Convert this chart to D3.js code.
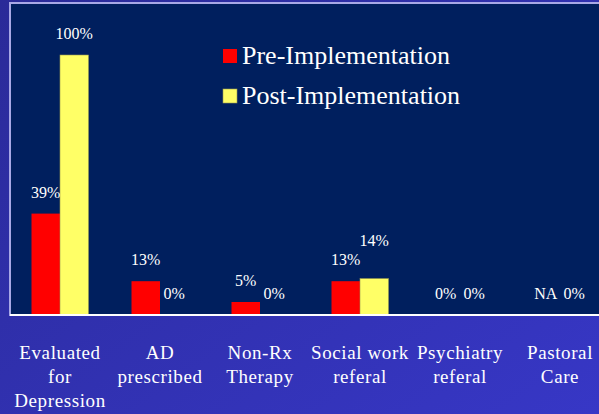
<!DOCTYPE html>
<html>
<head>
<meta charset="utf-8">
<script src="https://cdn.jsdelivr.net/npm/d3@7"></script>
<style>
  html, body { margin: 0; padding: 0; background: #2f2fb0; }
  svg { display: block; }
  text { font-family: "Liberation Serif", "Times New Roman", serif; fill: #ffffff; }
</style>
</head>
<body>
<svg id="chart"></svg>
<script>
// categories (multi-line labels)
var categories = [
    ["Evaluated", "for", "Depression"],
    ["AD", "prescribed"],
    ["Non-Rx", "Therapy"],
    ["Social work", "referal"],
    ["Psychiatry", "referal"],
    ["Pastoral", "Care"]
];
var seriesNames = ["Pre-Implementation", "Post-Implementation"];
// null = NA
var preValues = [39, 13, 5, 13, 0, null];
var postValues = [100, 0, 0, 14, 0, 0];
var seriesColors = ["#ff0000", "#ffff66"];

var width = 599, height = 414;
var svg = d3.select("#chart").attr("width", width).attr("height", height);

// background gradient
var defs = svg.append("defs");
var grad = defs.append("linearGradient")
    .attr("id", "bg")
    .attr("x1", "0").attr("y1", "0").attr("x2", "1").attr("y2", "1");
grad.append("stop").attr("offset", "0%").attr("stop-color", "#2a2a98");
grad.append("stop").attr("offset", "100%").attr("stop-color", "#3737c6");
svg.append("rect").attr("width", width).attr("height", height).attr("fill", "url(#bg)");

// plot area
var plot = {left: 10, top: 3, right: 610, bottom: 315};
svg.append("rect")
    .attr("x", plot.left).attr("y", plot.top)
    .attr("width", plot.right - plot.left).attr("height", plot.bottom - plot.top)
    .attr("fill", "#001f5e")
    .attr("stroke", "#a8a8e6")
    .attr("stroke-width", 2);

var x0 = d3.scaleBand()
    .domain(d3.range(categories.length))
    .range([plot.left, plot.right])
    .paddingInner(0.43)
    .paddingOuter(0.215);

var x1 = d3.scaleBand()
    .domain([0, 1])
    .range([0, x0.bandwidth()]);

var y = d3.scaleLinear()
    .domain([0, 100])
    .range([plot.bottom, 55]);

var rows = categories.map(function (c, i) {
    return {i: i, vals: [preValues[i], postValues[i]]};
});

var groups = svg.append("g").selectAll("g")
    .data(rows)
    .join("g")
    .attr("transform", function (d) { return "translate(" + x0(d.i) + ",0)"; });

groups.selectAll("rect")
    .data(function (d) { return d.vals.map(function (v, s) { return {s: s, v: v}; }); })
    .join("rect")
    .attr("x", function (d) { return x1(d.s); })
    .attr("width", x1.bandwidth())
    .attr("y", function (d) { return y(d.v || 0); })
    .attr("height", function (d) { return y(0) - y(d.v || 0); })
    .attr("fill", function (d) { return seriesColors[d.s]; })
    .attr("stroke", function (d) { return d.s === 1 ? "#9a9a50" : "none"; })
    .attr("stroke-width", 0.6);

// value labels
groups.each(function (d) {
    var g = d3.select(this);
    var ys = d.vals.map(function (v) { return y(v || 0) - 16; });
    // lift the second label when both sit at nearly the same height on real bars
    if (d.vals[0] > 0 && d.vals[1] > 0 && Math.abs(ys[0] - ys[1]) < 15) {
        ys[1] = Math.min(ys[0], ys[1]) - 17;
    }
    d.vals.forEach(function (v, s) {
        g.append("text")
            .attr("x", x1(s) + x1.bandwidth() / 2)
            .attr("y", ys[s])
            .attr("text-anchor", "middle")
            .style("font-size", "16px")
            .text(v === null ? "NA" : v + "%");
    });
});

// axis line
svg.append("line")
    .attr("x1", plot.left).attr("x2", width)
    .attr("y1", plot.bottom).attr("y2", plot.bottom)
    .attr("stroke", "#ffffff").attr("stroke-width", 2);

// category labels
var catAxis = svg.append("g").selectAll("text")
    .data(categories)
    .join("text")
    .attr("text-anchor", "middle")
    .style("font-size", "19px")
    .style("letter-spacing", "0.6px")
    .attr("transform", function (d, i) {
        return "translate(" + (x0(i) + x0.bandwidth() / 2) + ",359)";
    });
catAxis.selectAll("tspan")
    .data(function (d) { return d; })
    .join("tspan")
    .attr("x", 0)
    .attr("y", function (d, i) { return i * 24; })
    .text(function (d) { return d; });

// legend
var legend = svg.append("g").selectAll("g")
    .data(seriesNames)
    .join("g")
    .attr("transform", function (d, i) { return "translate(223," + (49 + i * 40) + ")"; });
legend.append("rect")
    .attr("width", 14).attr("height", 14)
    .attr("fill", function (d, i) { return seriesColors[i]; })
    .attr("stroke", function (d, i) { return i === 1 ? "#9a9a50" : "none"; })
    .attr("stroke-width", 0.6);
legend.append("text")
    .attr("x", 19)
    .attr("y", 15)
    .style("font-size", "26px")
    .text(function (d) { return d; });
</script>
</body>
</html>
